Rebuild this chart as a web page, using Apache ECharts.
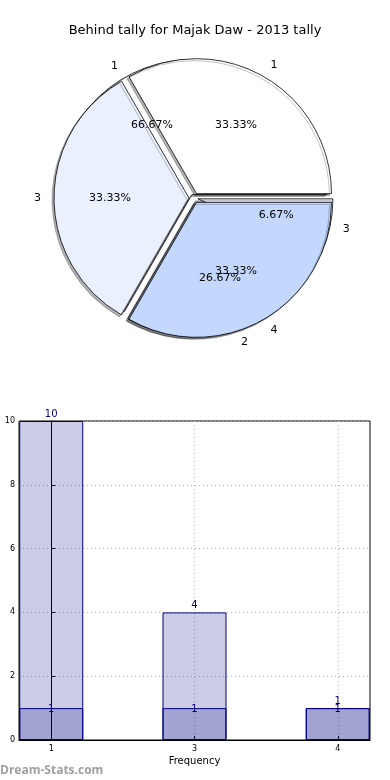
<!DOCTYPE html>
<html>
<head>
<meta charset="utf-8">
<script src="https://cdn.jsdelivr.net/npm/echarts@6/dist/echarts.min.js"></script>
<style>
html,body{margin:0;padding:0;background:#fff;}
#c{width:390px;height:780px;}
</style>
</head>
<body>
<div id="c"></div>
<script>
// ---- data ----
var titleText = 'Behind tally for Majak Daw - 2013 tally';
// under pie (drawn first)
var pieALabels = ['1', '3', '2'];
var pieAValues = [10, 1, 4];
// top pie
var pieBLabels = ['1', '3', '4'];
var pieBValues = [1, 1, 1];
var pieColors = ['#ffffff', '#eaf0fe', '#c4d8fe'];

// bar chart
var barCategories = ['1', '3', '4'];
var barTotals = [10, 4, 1];
var barSingles = [1, 1, 1];
var yTicks = [0, 2, 4, 6, 8, 10];
var xName = 'Frequency';
var watermark = 'Dream-Stats.com';

// ---- layout ----
var PC = [194, 198];
var R = 135;
var FONT = 'DejaVu Sans';

function pieData(labels, values, selected) {
  return labels.map(function (l, i) {
    return {name: l, value: values[i], selected: selected,
      itemStyle: {color: pieColors[i]}};
  });
}

function pieShapes(labels, values, startAngle, clockwise, z, offset) {
  return {
    type: 'pie', center: PC, radius: [0, R], startAngle: startAngle, clockwise: clockwise,
    z: z, selectedMode: 'multiple', selectedOffset: offset, avoidLabelOverlap: false,
    animation: false, silent: true,
    labelLayout: {hideOverlap: false},
    emphasis: {disabled: true}, select: {itemStyle: {borderColor: '#000', borderWidth: 0.8}},
    itemStyle: {borderColor: '#000', borderWidth: 0.8, shadowColor: 'rgba(0,0,0,0.3)',
      shadowBlur: 0, shadowOffsetX: -2, shadowOffsetY: 2},
    label: {show: true, position: 'outside', fontFamily: FONT, fontSize: 11, color: '#000',
      formatter: '{b}', distanceToLabelLine: 0},
    labelLine: {show: false, length: 13, length2: 0},
    data: pieData(labels, values, true)
  };
}

function piePct(labels, values, startAngle, clockwise, z) {
  var total = values.reduce(function (a, b) { return a + b; }, 0);
  return {
    type: 'pie', center: PC, radius: [0, R * 1.2], startAngle: startAngle, clockwise: clockwise,
    z: z, silent: true, animation: false, avoidLabelOverlap: false,
    labelLayout: {hideOverlap: false},
    emphasis: {disabled: true},
    itemStyle: {color: 'rgba(0,0,0,0)', borderWidth: 0},
    label: {show: true, position: 'inside', fontFamily: FONT, fontSize: 11, color: '#000',
      formatter: function (p) { return (p.value / total * 100).toFixed(2) + '%'; }},
    labelLine: {show: false},
    data: labels.map(function (l, i) { return {name: l, value: values[i], itemStyle: {color: 'rgba(0,0,0,0)'}}; })
  };
}

var chart = echarts.init(document.getElementById('c'), null, {renderer: 'canvas'});
var option = {
  animation: false,
  backgroundColor: '#fff',
  title: {text: titleText, left: 'center', top: 19,
    textStyle: {fontFamily: FONT, fontSize: 13, fontWeight: 'normal', color: '#000'}},
  grid: {left: 19, right: 20, top: 421, bottom: 40, show: true, borderColor: '#000', borderWidth: 1,
    backgroundColor: 'transparent'},
  xAxis: {
    type: 'value', min: -0.225, max: 2.225,
    name: xName, nameLocation: 'middle', nameGap: 16,
    nameTextStyle: {fontFamily: FONT, fontSize: 10, color: '#000'},
    axisLine: {show: true, lineStyle: {color: '#000'}},
    axisTick: {show: true, inside: true, length: 4, customValues: [0, 1, 2], lineStyle: {color: '#000'}},
    axisLabel: {customValues: [0, 1, 2], fontFamily: FONT, fontSize: 8, color: '#000', margin: 5,
      formatter: function (v) { return barCategories[Math.round(v)]; }},
    splitLine: {show: true, lineStyle: {color: '#b0b0b0', type: [1, 3], width: 1}}
  },
  yAxis: {
    type: 'value', min: 0, max: 10, interval: 2,
    axisLine: {show: true, lineStyle: {color: '#000'}},
    axisTick: {show: true, inside: true, length: 4, lineStyle: {color: '#000'}},
    axisLabel: {fontFamily: FONT, fontSize: 8, color: '#000', margin: 4,
      formatter: function (v) { return yTicks.indexOf(v) >= 0 ? String(v) : ''; }},
    splitLine: {show: true, lineStyle: {color: '#b0b0b0', type: [1, 3], width: 1}}
  },
  graphic: [{type: 'text', left: 0, top: 765, z: 100,
    style: {text: watermark, fontFamily: 'Open Sans', fontWeight: 'bold', fontSize: 12, fill: '#a0a0a0'}}],
  series: [
    pieShapes(pieALabels, pieAValues, 240, true, 1, 4),
    pieShapes(pieBLabels, pieBValues, 0, false, 2, 5),
    piePct(pieALabels, pieAValues, 240, true, 3),
    piePct(pieBLabels, pieBValues, 0, false, 4),
    {
      type: 'bar', barWidth: 64, barGap: '-100%', z: 5,
      data: barTotals.map(function (v, i) { return [i, v]; }),
      itemStyle: {color: 'rgba(0,0,128,0.2)', borderColor: '#000080', borderWidth: 1},
      label: {show: true, position: 'top', distance: 2, fontFamily: FONT, fontSize: 10, color: '#000080',
        formatter: function (p) { return String(p.value[1]); }}
    },
    {
      type: 'bar', barWidth: 64, barGap: '-100%', z: 6,
      data: barSingles.map(function (v, i) { return [i, v]; }),
      itemStyle: {color: 'rgba(0,0,128,0.2)', borderColor: '#000080', borderWidth: 1},
      label: {show: true, position: 'top', distance: -6, fontFamily: FONT, fontSize: 10, color: '#000080',
        formatter: function (p) { return String(p.value[1]); }}
    }
  ]
};
chart.setOption(option);
</script>
</body>
</html>
